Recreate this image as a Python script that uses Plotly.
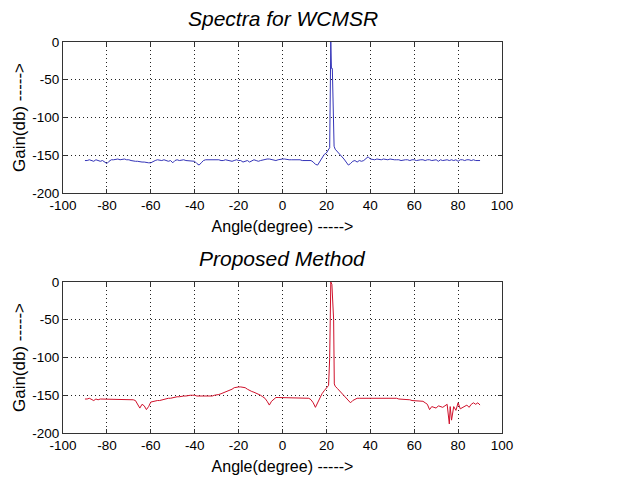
import plotly.graph_objects as go

# ---- data ----
angle_wcmsr = [
    -90, -89, -88, -87, -86, -85, -84, -83, -82, -81, -80, -79, -78, -77, -76, -75, -74, -73, -72, -71,
    -70, -69, -68, -67, -66, -65, -64, -63, -62, -61, -60, -59, -58, -57, -56, -55, -54, -53, -52, -51,
    -50, -49, -48, -47, -46, -45, -44, -43, -42, -41, -40, -39, -38, -37, -36, -35, -34, -33, -32, -31,
    -30, -29, -28, -27, -26, -25, -24, -23, -22, -21, -20, -19, -18, -17, -16, -15, -14, -13, -12, -11,
    -10, -9, -8, -7, -6, -5, -4, -3, -2, -1, 0, 1, 2, 3, 4, 5, 6, 7, 8, 9,
    10, 11, 12, 13, 14, 15, 16, 17, 18, 19, 20, 21, 21.5, 22, 22.3, 22.7, 23, 23.5, 24, 25,
    26, 27, 28, 29, 30, 31, 32, 33, 34, 35, 36, 37, 38, 39, 40, 41, 42, 43, 44, 45,
    46, 47, 48, 49, 50, 51, 52, 53, 54, 55, 56, 57, 58, 59, 60, 61, 62, 63, 64, 65,
    66, 67, 68, 69, 70, 71, 72, 73, 74, 75, 76, 77, 78, 79, 80, 81, 82, 83, 84, 85,
    86, 87, 88, 89, 90,
]
gain_wcmsr = [
    -157, -157, -156, -157, -158, -156, -157, -158, -157, -159, -161, -158, -156, -156, -155, -155, -156, -155, -155, -156,
    -156, -157, -158, -158, -158, -159, -159, -159, -160, -160, -160, -158, -157, -156, -157, -157, -156, -157, -158, -157,
    -160, -157, -156, -157, -156, -156, -157, -157, -158, -157, -158, -161, -163, -160, -157, -156, -156, -155, -155, -156,
    -156, -156, -157, -157, -156, -157, -157, -158, -157, -156, -157, -157, -159, -158, -157, -159, -157, -156, -157, -158,
    -157, -156, -156, -155, -155, -156, -157, -157, -156, -155, -155, -155, -156, -156, -156, -156, -156, -156, -156, -157,
    -157, -157, -157, -157, -159, -162, -163, -158, -153, -149, -147, -143, -140, 0, -35, -35, -100, -138, -142, -145,
    -148, -151, -155, -159, -163, -161, -158, -157, -159, -157, -158, -157, -155, -152, -155, -156, -156, -155, -156, -156,
    -155, -156, -156, -155, -156, -156, -156, -156, -157, -156, -156, -156, -157, -156, -156, -157, -156, -156, -156, -157,
    -156, -156, -157, -156, -156, -158, -156, -157, -156, -156, -157, -156, -157, -156, -158, -156, -156, -157, -156, -156,
    -157, -156, -157, -157, -157,
]

angle_prop = [
    -90, -89, -88, -87, -86, -85, -84, -83, -82, -81, -80, -79, -78, -77, -76, -75, -74, -73, -72, -71,
    -70, -69, -68, -67, -66, -65, -64, -63, -62, -61, -60, -59, -58, -57, -56, -55, -54, -53, -52, -51,
    -50, -49, -48, -47, -46, -45, -44, -43, -42, -41, -40, -39, -38, -37, -36, -35, -34, -33, -32, -31,
    -30, -29, -28, -27, -26, -25, -24, -23, -22, -21, -20, -19, -18, -17, -16, -15, -14, -13, -12, -11,
    -10, -9, -8, -7, -6, -5, -4, -3, -2, -1, 0, 1, 2, 3, 4, 5, 6, 7, 8, 9,
    10, 11, 12, 13, 14, 15, 16, 17, 18, 19, 20, 21, 21.5, 22, 22.5, 23, 23.3, 23.6, 24, 25,
    26, 27, 28, 29, 30, 31, 32, 33, 34, 35, 36, 37, 38, 39, 40, 41, 42, 43, 44, 45,
    46, 47, 48, 49, 50, 51, 52, 53, 54, 55, 56, 57, 58, 59, 60, 61, 62, 63, 64, 65,
    66, 67, 68, 69, 70, 71, 72, 73, 74, 75, 76, 76.4, 77, 78, 79, 80, 81, 82, 83, 84,
    85, 86, 87, 88, 89, 90,
]
gain_prop = [
    -155, -155, -154, -155, -157, -155, -156, -155, -155, -155, -155, -155, -155, -155, -155, -155, -155, -155, -155, -155,
    -155, -156, -156, -157, -162, -167, -162, -164, -169, -165, -159, -158, -158, -157, -157, -156, -155, -155, -154, -154,
    -153, -153, -152, -152, -151, -151, -151, -150, -150, -150, -150, -151, -151, -151, -152, -152, -152, -151, -151, -150,
    -150, -149, -148, -147, -146, -145, -143, -142, -140, -139, -139, -139, -139, -140, -142, -144, -145, -146, -147, -148,
    -150, -152, -154, -158, -163, -158, -155, -153, -153, -153, -154, -153, -153, -154, -153, -153, -154, -153, -153, -154,
    -153, -153, -154, -156, -160, -166, -160, -153, -148, -144, -140, -137, -100, 0, -3, -35, -50, -135, -138, -141,
    -144, -147, -150, -153, -157, -160, -157, -155, -154, -154, -154, -153, -154, -154, -154, -153, -154, -154, -154, -154,
    -153, -154, -154, -154, -154, -154, -154, -155, -155, -156, -156, -155, -156, -157, -157, -157, -158, -158, -158, -160,
    -162, -169, -165, -166, -167, -164, -165, -166, -164, -162, -188, -165, -183, -165, -170, -160, -168, -166, -164, -163,
    -166, -162, -160, -162, -160, -163,
]

x_ticks = [-100, -80, -60, -40, -20, 0, 20, 40, 60, 80, 100]
y_ticks = [0, -50, -100, -150, -200]
titles = ["Spectra for WCMSR", "Proposed Method"]
x_title = "Angle(degree) ----->"
y_title = "Gain(db) ----->"

FONT = "Liberation Sans, Arial, sans-serif"
OFF = 8                       # default page margin of the HTML body
W, H = 621 - OFF, 481 - OFF
L, R, T, B = 63 - OFF, 502 - OFF, 42 - OFF, 433 - OFF   # plotting area in figure pixels
TOP_BOTTOM = 193 - OFF
BOT_TOP = 282 - OFF

def fy(py):
    return (B - py) / (B - T)

fig = go.Figure()
fig.add_trace(go.Scatter(x=angle_wcmsr, y=gain_wcmsr, mode="lines", xaxis="x", yaxis="y",
                         line=dict(color="#3434b8", width=1), showlegend=False))
fig.add_trace(go.Scatter(x=angle_prop, y=gain_prop, mode="lines", xaxis="x2", yaxis="y2",
                         line=dict(color="#d0102a", width=1), showlegend=False))

axis_common = dict(showline=True, linecolor="#333333", linewidth=1.2, mirror="ticks",
                   ticks="inside", ticklen=4, tickcolor="#333333",
                   showgrid=True, gridcolor="#222222", griddash="1px,3px", gridwidth=1,
                   zeroline=False, automargin=False,
                   tickfont=dict(family=FONT, size=13.5, color="black"))

xa = dict(range=[-100, 100], tickvals=x_ticks, ticktext=[str(v) for v in x_ticks],
          title=dict(text=x_title, font=dict(family=FONT, size=16, color="black"), standoff=8),
          **axis_common)
ya = dict(range=[-200, 0], tickvals=y_ticks, ticktext=[str(v) for v in y_ticks],
          title=dict(text=y_title, font=dict(family=FONT, size=17, color="black"), standoff=2),
          **axis_common)

fig.update_layout(
    width=W, height=H,
    margin=dict(l=L, r=W - R, t=T, b=H - B, autoexpand=False),
    paper_bgcolor="white", plot_bgcolor="white",
    font=dict(family=FONT, color="black"),
    xaxis=dict(domain=[0, 1], anchor="y", **xa),
    yaxis=dict(domain=[fy(TOP_BOTTOM), 1.0], anchor="x", **ya),
    xaxis2=dict(domain=[0, 1], anchor="y2", **xa),
    yaxis2=dict(domain=[0.0, fy(BOT_TOP)], anchor="x2", **ya),
)

fig.add_annotation(text="<i>" + titles[0] + "</i>", xref="paper", yref="paper", x=0.5, y=1.0,
                   yanchor="bottom", yshift=10, showarrow=False, font=dict(family=FONT, size=21, color="black"))
fig.add_annotation(text="<i>" + titles[1] + "</i>", xref="paper", yref="paper", x=0.5, y=fy(BOT_TOP),
                   yanchor="bottom", yshift=10, showarrow=False, font=dict(family=FONT, size=21, color="black"))

fig.write_html("out.html")
